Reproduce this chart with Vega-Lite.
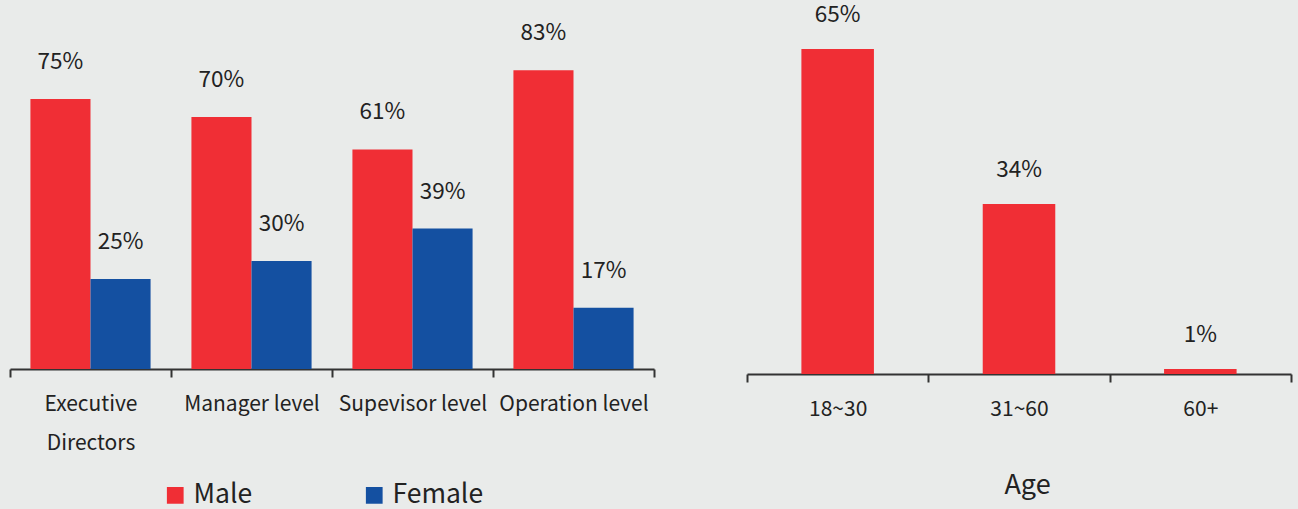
{
  "$schema": "https://vega.github.io/schema/vega-lite/v6.json",
  "background": "#e9ebea",
  "padding": {"left": 9, "top": 4, "right": 8, "bottom": 0},
  "config": {
    "view": {"stroke": null},
    "font": "Noto Sans CJK SC",
    "axis": {"domainColor": "#333333", "domainWidth": 2, "tickColor": "#333333", "tickWidth": 2, "tickSize": 8, "labelColor": "#222222", "grid": false}
  },
  "spacing": 93,
  "bounds": "flush",
  "hconcat": [
    {
      "width": 644,
      "height": 360,
      "data": {"values": [
        {"level": "Executive Directors", "gender": "Male", "value": 0.75},
        {"level": "Executive Directors", "gender": "Female", "value": 0.25},
        {"level": "Manager level", "gender": "Male", "value": 0.70},
        {"level": "Manager level", "gender": "Female", "value": 0.30},
        {"level": "Supevisor level", "gender": "Male", "value": 0.61},
        {"level": "Supevisor level", "gender": "Female", "value": 0.39},
        {"level": "Operation level", "gender": "Male", "value": 0.83},
        {"level": "Operation level", "gender": "Female", "value": 0.17}
      ]},
      "encoding": {
        "x": {"field": "level", "type": "nominal", "sort": null, "title": null,
          "scale": {"paddingInner": 0, "paddingOuter": 0},
          "axis": {"labelAngle": 0, "tickBand": "extent", "labelFontSize": 21, "labelPadding": 16, "labelLineHeight": 39, "labelLimit": 300,
            "labelExpr": "datum.label == 'Executive Directors' ? ['Executive', 'Directors'] : datum.label"}},
        "xOffset": {"field": "gender", "type": "nominal", "sort": ["Male", "Female"], "scale": {"paddingInner": 0, "paddingOuter": 0.34}},
        "y": {"field": "value", "type": "quantitative", "scale": {"domain": [0, 1]}, "axis": null}
      },
      "layer": [
        {
          "mark": {"type": "bar"},
          "encoding": {
            "color": {"field": "gender", "type": "nominal", "sort": ["Male", "Female"],
              "scale": {"domain": ["Male", "Female"], "range": ["#f02e35", "#1450a1"]},
              "legend": {"title": null, "orient": "none", "direction": "horizontal", "legendX": 152, "legendY": 473,
                "symbolType": "square", "symbolSize": 280, "symbolStrokeWidth": 0, "labelFontSize": 26.5, "labelColor": "#222222",
                "labelOffset": 5, "columnPadding": 108, "padding": 0}}
          }
        },
        {
          "mark": {"type": "text", "baseline": "middle", "dy": -37, "fontSize": 22.5, "color": "#222222"},
          "encoding": {"text": {"field": "value", "type": "quantitative", "format": ".0%"},
            "detail": {"field": "gender"}}
        }
      ]
    },
    {
      "width": 544,
      "height": 365,
      "data": {"values": [
        {"age": "18~30", "value": 0.65},
        {"age": "31~60", "value": 0.34},
        {"age": "60+", "value": 0.01}
      ]},
      "encoding": {
        "x": {"field": "age", "type": "nominal", "sort": null, "title": "Age",
          "scale": {"paddingInner": 0, "paddingOuter": 0},
          "axis": {"labelAngle": 0, "tickBand": "extent", "labelFontSize": 21, "labelPadding": 16,
            "titleFontSize": 27, "titleFontWeight": "normal", "titleColor": "#222222", "titleX": 280, "titleY": 98}},
        "y": {"field": "value", "type": "quantitative", "scale": {"domain": [0, 0.73]}, "axis": null}
      },
      "layer": [
        {"mark": {"type": "bar", "color": "#f02e35", "width": {"band": 0.4}}},
        {
          "mark": {"type": "text", "baseline": "middle", "dy": -34, "fontSize": 22.5, "color": "#222222"},
          "encoding": {"text": {"field": "value", "type": "quantitative", "format": ".0%"}}
        }
      ]
    }
  ]
}
